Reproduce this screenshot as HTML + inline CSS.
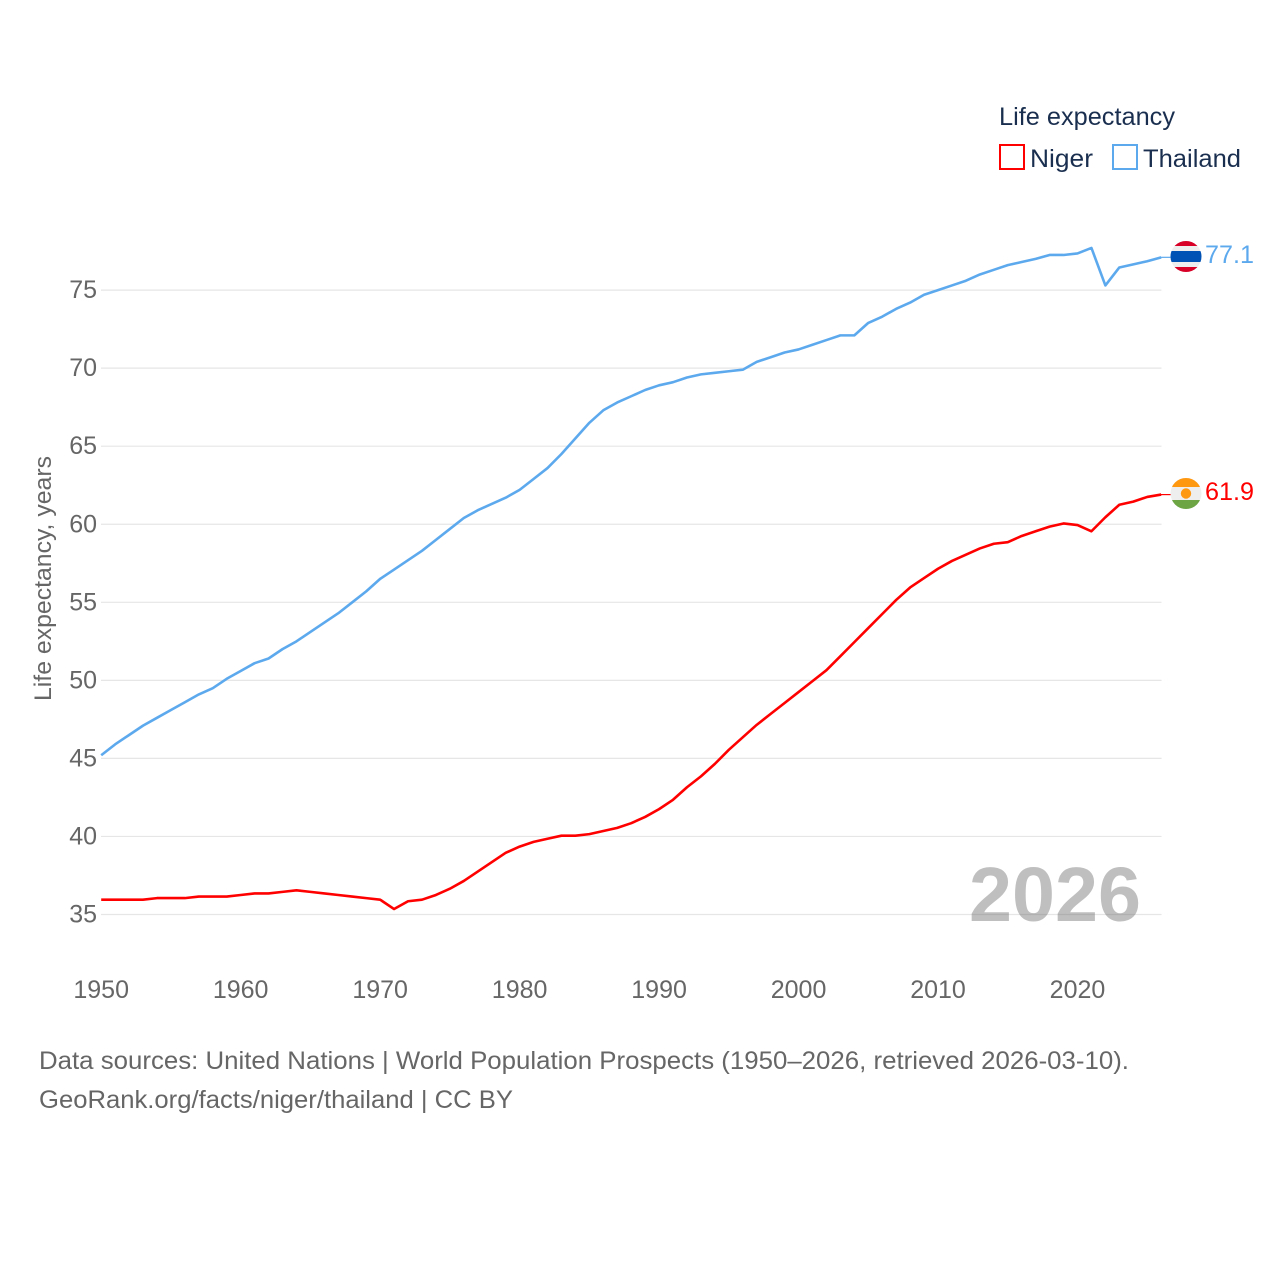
<!DOCTYPE html>
<html lang="en">
<head>
<meta charset="utf-8">
<title>Life expectancy: Niger and Thailand</title>
<style>
html,body{margin:0;padding:0;background:#fff;}
svg{display:block;font-family:"Liberation Sans",sans-serif;}
</style>
</head>
<body>
<svg id="chart" width="1280" height="1280" viewBox="0 0 1280 1280" xmlns="http://www.w3.org/2000/svg">
  <defs>
    <clipPath id="clip-th"><circle cx="1186" cy="256.5" r="15.5"/></clipPath>
    <clipPath id="clip-ne"><circle cx="1186" cy="493.5" r="15.5"/></clipPath>
  </defs>
  <rect width="1280" height="1280" fill="#ffffff"/>
  <g id="grid"></g>
  <g id="yticks"></g>
  <g id="xticks"></g>
  <text transform="translate(51,701) rotate(-90)" font-size="24" fill="#666666" textLength="245" lengthAdjust="spacingAndGlyphs">Life expectancy, years</text>
  <text x="969" y="921" font-size="77" font-weight="bold" fill="#666666" fill-opacity="0.42" textLength="172" lengthAdjust="spacingAndGlyphs">2026</text>
  <path id="line-thailand" fill="none" stroke="#5da9ee" stroke-width="2.6" stroke-linejoin="round"/>
  <path id="line-niger" fill="none" stroke="#ff0000" stroke-width="2.6" stroke-linejoin="round"/>
  <line id="leader-thailand" x1="1161" x2="1172" stroke="#5da9ee" stroke-width="1.2"/>
  <line id="leader-niger" x1="1161" x2="1172" stroke="#ff0000" stroke-width="1.2"/>

  <g clip-path="url(#clip-th)">
    <rect x="1170" y="241" width="32" height="31" fill="#eeeeee"/>
    <rect x="1170" y="241" width="32" height="5" fill="#d80027"/>
    <rect x="1170" y="267" width="32" height="5" fill="#d80027"/>
    <rect x="1170" y="251" width="32" height="11" fill="#0052b4"/>
  </g>
  <g clip-path="url(#clip-ne)">
    <rect x="1170" y="478" width="32" height="31" fill="#eeeeee"/>
    <rect x="1170" y="478" width="32" height="9" fill="#ff9811"/>
    <rect x="1170" y="500" width="32" height="9" fill="#6da544"/>
    <circle cx="1186" cy="493.5" r="5.2" fill="#ff9811"/>
  </g>
  <text id="label-thailand" x="1205" y="263" font-size="25" fill="#5da9ee" textLength="49" lengthAdjust="spacingAndGlyphs"></text>
  <text id="label-niger" x="1205" y="500" font-size="25" fill="#ff0000" textLength="49" lengthAdjust="spacingAndGlyphs"></text>

  <g>
    <text x="999" y="125" font-size="25" fill="#1a2f4f" textLength="176" lengthAdjust="spacingAndGlyphs">Life expectancy</text>
    <rect x="1000" y="145" width="24" height="24" fill="#ffffff" stroke="#ff0000" stroke-width="2"/>
    <text x="1030" y="167" font-size="25" fill="#1a2f4f" textLength="63" lengthAdjust="spacingAndGlyphs">Niger</text>
    <rect x="1113" y="145" width="24" height="24" fill="#ffffff" stroke="#5da9ee" stroke-width="2"/>
    <text x="1143" y="167" font-size="25" fill="#1a2f4f" textLength="98" lengthAdjust="spacingAndGlyphs">Thailand</text>
  </g>

  <text x="39" y="1069" font-size="25" fill="#666666" textLength="1090" lengthAdjust="spacingAndGlyphs">Data sources: United Nations | World Population Prospects (1950–2026, retrieved 2026-03-10).</text>
  <text x="39" y="1108" font-size="25" fill="#666666" textLength="474" lengthAdjust="spacingAndGlyphs">GeoRank.org/facts/niger/thailand | CC BY</text>
</svg>
<script>
var firstYear = 1950;
var yTickLabels = [35, 40, 45, 50, 55, 60, 65, 70, 75];
var xTickLabels = [1950, 1960, 1970, 1980, 1990, 2000, 2010, 2020];
var thailandValues = [45.2,45.9,46.5,47.1,47.6,48.1,48.6,49.1,49.5,50.1,50.6,51.1,51.4,52.0,52.5,53.1,53.7,54.3,55.0,55.7,56.5,57.1,57.7,58.3,59.0,59.7,60.4,60.9,61.3,61.7,62.2,62.9,63.6,64.5,65.5,66.5,67.3,67.8,68.2,68.6,68.9,69.1,69.4,69.6,69.7,69.8,69.9,70.4,70.7,71.0,71.2,71.5,71.8,72.1,72.1,72.9,73.3,73.8,74.2,74.7,75.0,75.3,75.6,76.0,76.3,76.6,76.8,77.0,77.25,77.25,77.35,77.7,75.3,76.45,76.65,76.85,77.1];
var nigerValues = [35.95,35.95,35.95,35.95,36.05,36.05,36.05,36.15,36.15,36.15,36.25,36.35,36.35,36.45,36.55,36.45,36.35,36.25,36.15,36.05,35.95,35.35,35.85,35.95,36.25,36.65,37.15,37.75,38.35,38.95,39.35,39.65,39.85,40.05,40.05,40.15,40.35,40.55,40.85,41.25,41.75,42.35,43.15,43.85,44.65,45.55,46.35,47.15,47.85,48.55,49.25,49.95,50.65,51.55,52.45,53.35,54.25,55.15,55.95,56.55,57.15,57.65,58.05,58.45,58.75,58.85,59.25,59.55,59.85,60.05,59.95,59.55,60.45,61.25,61.45,61.75,61.9];

var NS = 'http://www.w3.org/2000/svg';
function xScale(year) { return 101.2 + (year - 1950) * 13.947; }
function yScale(v) { return 914.5 - (v - 35) * 15.61; }
function linePath(values) {
  var d = '';
  for (var i = 0; i < values.length; i++) {
    d += (i ? 'L' : 'M') + xScale(firstYear + i).toFixed(2) + ' ' + yScale(values[i]).toFixed(2);
  }
  return d;
}

var grid = document.getElementById('grid');
var yticks = document.getElementById('yticks');
yTickLabels.forEach(function (v) {
  var gl = document.createElementNS(NS, 'line');
  
  
  gl.setAttribute('x1', 101);
  gl.setAttribute('x2', 1161.5);
  gl.setAttribute('y1', yScale(v));
  gl.setAttribute('y2', yScale(v));
  gl.setAttribute('stroke', '#e6e6e6');
  gl.setAttribute('stroke-width', '1.2');
  grid.appendChild(gl);

  var t = document.createElementNS(NS, 'text');
  
  
  t.setAttribute('x', 97);
  t.setAttribute('y', yScale(v) + 8);
  t.setAttribute('text-anchor', 'end');
  t.setAttribute('font-size', '25');
  t.setAttribute('fill', '#666666');
  t.textContent = v;
  yticks.appendChild(t);
});

var xticks = document.getElementById('xticks');
xTickLabels.forEach(function (yr) {
  var t = document.createElementNS(NS, 'text');
  
  
  t.setAttribute('x', xScale(yr));
  t.setAttribute('y', 998);
  t.setAttribute('text-anchor', 'middle');
  t.setAttribute('font-size', '25');
  t.setAttribute('fill', '#666666');
  t.textContent = yr;
  xticks.appendChild(t);
});

document.getElementById('line-thailand').setAttribute('d', linePath(thailandValues));
document.getElementById('line-niger').setAttribute('d', linePath(nigerValues));

var lastTh = thailandValues[thailandValues.length - 1];
var lastNe = nigerValues[nigerValues.length - 1];
var leadTh = document.getElementById('leader-thailand');
leadTh.setAttribute('y1', yScale(lastTh));
leadTh.setAttribute('y2', yScale(lastTh));
var leadNe = document.getElementById('leader-niger');
leadNe.setAttribute('y1', yScale(lastNe));
leadNe.setAttribute('y2', yScale(lastNe));
document.getElementById('label-thailand').textContent = lastTh.toFixed(1);
document.getElementById('label-niger').textContent = lastNe.toFixed(1);
</script>
</body>
</html>
